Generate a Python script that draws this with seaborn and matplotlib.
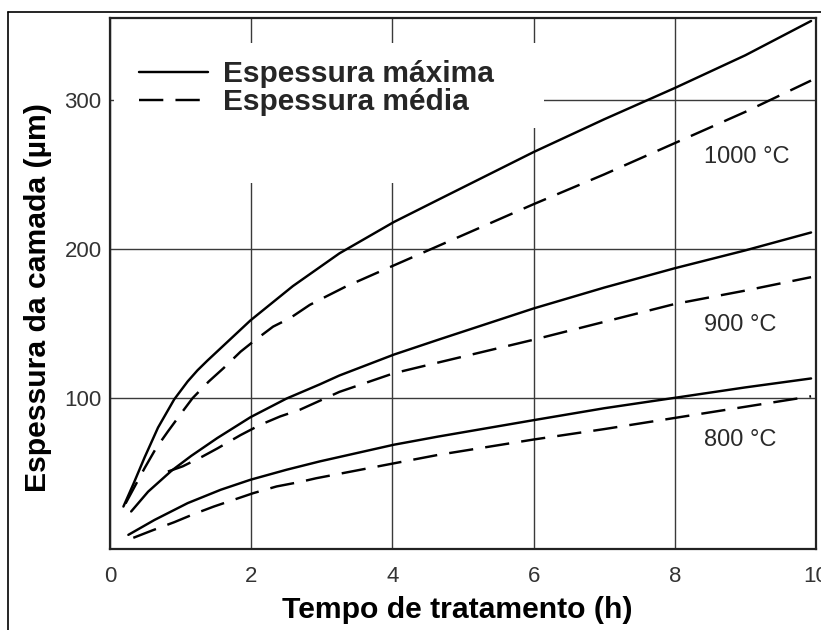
import numpy as np
import pandas as pd
import matplotlib
matplotlib.use("Agg")
import matplotlib.pyplot as plt
from matplotlib.lines import Line2D
from matplotlib.patches import Rectangle
import seaborn as sns

# ---- data ----
t_1000_max = [0.19, 0.33, 0.49, 0.68, 0.91, 1.1, 1.24, 1.38, 1.99, 2.59, 3.25, 4.02, 4.65, 6, 7, 8, 9, 9.93]
y_1000_max = [27, 42, 60, 80, 99, 111, 118.5, 125, 152, 175, 197, 218, 233, 265, 287, 308, 330, 353]
t_1000_med = [0.22, 0.49, 0.65, 0.82, 1.01, 1.17, 1.4, 1.61, 1.85, 2.03, 2.31, 2.55, 2.83, 3.06, 3.34, 3.58, 3.9, 6, 7, 8, 9, 9.93]
y_1000_med = [29, 52.8, 66, 77.4, 89.7, 99.8, 111, 120, 131, 137.8, 147.8, 153.5, 162.4, 168, 174.7, 179.7, 186.4, 230, 250, 271, 292, 313]
t_900_max = [0.3, 0.54, 0.87, 1.15, 1.52, 1.99, 2.5, 2.97, 3.25, 4.02, 4.65, 6, 7, 8, 9, 9.93]
y_900_max = [23.7, 37, 51, 61, 73, 87, 99.5, 109, 115, 129, 139, 160, 174, 187, 199, 211]
t_900_med = [0.82, 1.03, 1.31, 1.52, 1.85, 2.13, 2.41, 2.69, 3.25, 4.02, 4.65, 6, 7, 8, 9, 9.93]
y_900_med = [50.5, 54, 60.6, 66, 75, 81.9, 87.5, 92, 104, 116.5, 123.7, 139, 151, 163, 172, 181]
t_800_max = [0.26, 0.63, 1.1, 1.57, 1.99, 2.5, 2.97, 4.02, 4.65, 6, 7, 8, 9, 9.93]
y_800_max = [8, 18, 29.3, 38.3, 45, 51.7, 57.3, 68.5, 74, 85, 93, 100, 107, 113]
t_800_med = [0.33, 0.6, 0.91, 1.19, 1.47, 1.75, 2.03, 2.36, 2.69, 2.92, 4.02, 4.65, 6, 7, 8, 9, 9.93]
y_800_med = [6, 11, 16.5, 22, 27, 31.5, 36, 40.5, 43.5, 46, 56, 61.7, 72, 79, 86.5, 94, 101]

temps = ["1000 °C", "900 °C", "800 °C"]
temp_label_y = [262, 149, 72]
kinds = ["Espessura máxima", "Espessura média"]
x_ticks = [0, 2, 4, 6, 8, 10]
y_ticks = [100, 200, 300]

series = [
    ("1000 °C", kinds[0], t_1000_max, y_1000_max),
    ("1000 °C", kinds[1], t_1000_med, y_1000_med),
    ("900 °C", kinds[0], t_900_max, y_900_max),
    ("900 °C", kinds[1], t_900_med, y_900_med),
    ("800 °C", kinds[0], t_800_max, y_800_max),
    ("800 °C", kinds[1], t_800_med, y_800_med),
]
rows = []
for temp, kind, ts, ys in series:
    for t, y in zip(ts, ys):
        rows.append({"t": t, "y": y, "temp": temp, "tipo": kind, "id": temp + kind})
df = pd.DataFrame(rows)

sns.set_theme(style="white")
plt.rcParams["font.family"] = ["Liberation Sans", "DejaVu Sans"]
plt.rcParams["lines.solid_capstyle"] = "round"
plt.rcParams["lines.solid_joinstyle"] = "round"

fig = plt.figure(figsize=(8.21, 6.30), dpi=100)
ax = fig.add_axes([110 / 821, 81 / 630, (816 - 110) / 821, (549 - 18) / 630])

ax.set_xlim(0, 9.93)
ax.set_ylim(-1.5, 355)

# grid
ax.set_axisbelow(True)
ax.grid(True, color="#3a3a3a", lw=1.0)
ax.set_xticks(x_ticks)
ax.set_yticks(y_ticks)

# white area behind legend (gridlines interrupted there)
ax.add_patch(Rectangle((0.05, 244), 5.85, 94, facecolor="white", edgecolor="none", zorder=1.5))
ax.add_patch(Rectangle((5.9, 281), 0.25, 57, facecolor="white", edgecolor="none", zorder=1.5))

dash_pat = (10, 5)
dash_map = {kinds[0]: "", kinds[1]: dash_pat}
sns.lineplot(data=df, x="t", y="y", style="tipo", units="id", estimator=None,
             dashes=dash_map, color="black", lw=1.75, sort=False, legend=False,
             ax=ax, zorder=3)

# temperature labels
for lab, yy in zip(temps, temp_label_y):
    ax.text(8.42, yy, lab, fontsize=17, color="#2a2a2a", va="center", ha="left")

# legend
handles = [Line2D([], [], color="black", lw=1.75),
           Line2D([], [], color="black", lw=1.75, dashes=dash_pat)]
leg = ax.legend(handles, kinds, loc="upper left",
                frameon=False, prop={"family": ["Liberation Sans", "DejaVu Sans"],
                                     "weight": "bold", "size": 21.5},
                handlelength=2.3, handletextpad=0.5, labelspacing=0.0,
                borderaxespad=0.0, borderpad=0.0)
leg.set_bbox_to_anchor((29 / 706, 0.9206), transform=ax.transAxes)

# ticks and labels
ax.set_xticklabels([str(v) for v in x_ticks])
ax.set_yticklabels([str(v) for v in y_ticks])
ax.tick_params(axis="both", length=0, labelsize=16, labelcolor="#333333")
ax.tick_params(axis="x", pad=12)
ax.tick_params(axis="y", pad=6)

ax.set_xlabel("Tempo de tratamento (h)", fontsize=21.7, fontweight="bold", labelpad=7, color="black")
ax.set_ylabel("Espessura da camada (µm)", fontsize=21.7, fontweight="bold", labelpad=9, color="black")
ax.xaxis.label.set_x(0.492)
ax.yaxis.label.set_y(0.474)

for sp in ax.spines.values():
    sp.set_visible(True)
    sp.set_color("#222222")
    sp.set_linewidth(1.6)

# outer frame (left and top edges of a box cut by the image border)
fig.add_artist(Line2D([8 / 821, 8 / 821], [0, (630 - 12) / 630], color="black", lw=1.2,
                      transform=fig.transFigure))
fig.add_artist(Line2D([8 / 821, 1.0], [(630 - 12) / 630, (630 - 12) / 630], color="black", lw=1.2,
                      transform=fig.transFigure))

fig.savefig("out.png", dpi=100)
